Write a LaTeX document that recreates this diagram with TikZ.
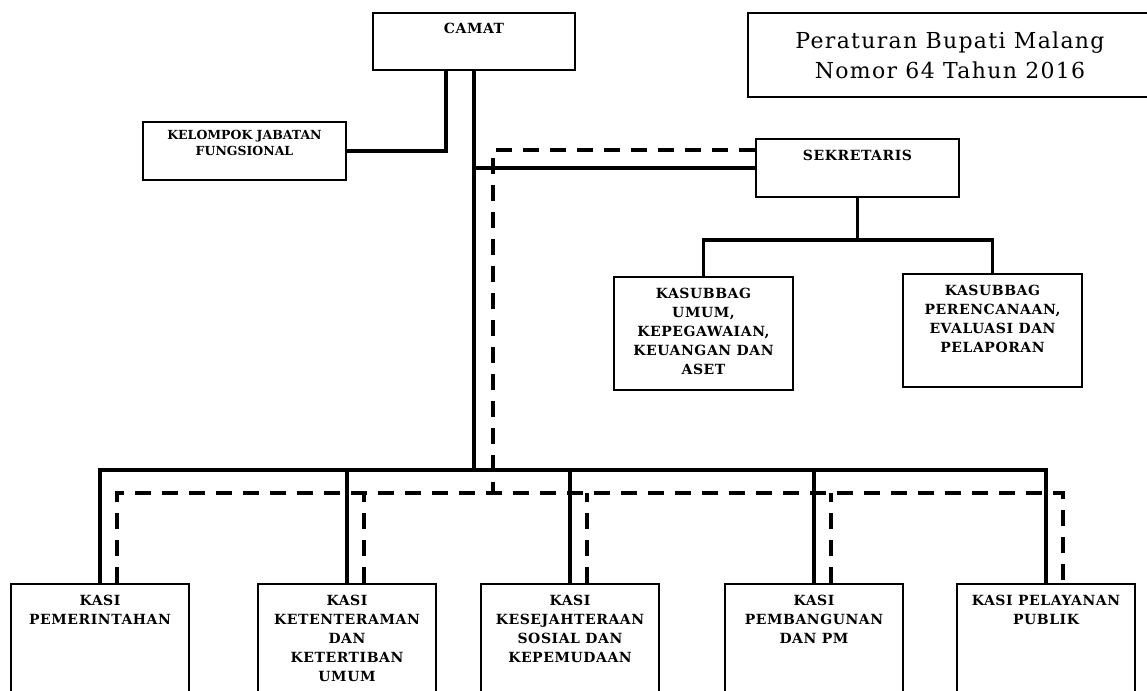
\documentclass[tikz,border=0pt]{standalone}
\usepackage{fontspec}
\setmainfont{DejaVu Serif}
\usetikzlibrary{positioning}

\tikzset{
  unitbox/.style={draw, line width=1.6pt, inner sep=0pt},
  unitlbl/.style={font=\bfseries\fontsize{14}{19}\selectfont\addfontfeatures{LetterSpace=4},
                  align=center, inner sep=1pt},
  smalllbl/.style={font=\bfseries\fontsize{12.5}{16}\selectfont, align=center, inner sep=1pt},
  solidline/.style={line width=3.5pt},
  dashline/.style={line width=3.5pt, dash pattern=on 16pt off 11pt},
}

\begin{document}
\begin{tikzpicture}[x=1pt,y=-1pt]
  \useasboundingbox (0,0) rectangle (1147,690);
  \clip (0,0) rectangle (1147,690);

  % top level
  \node[unitbox, minimum width=202, minimum height=57] (camat) at (474,41.5) {};
  \node[unitlbl, below=10pt of camat.north] (camatlbl) {CAMAT};
  \node[unitbox, minimum width=404, minimum height=84,
        font=\fontsize{22}{30}\selectfont\addfontfeatures{LetterSpace=6}, align=center] (perbup) at (950,55)
        {Peraturan Bupati Malang\\Nomor 64 Tahun 2016};
  \node[unitbox, minimum width=203, minimum height=58] (kelompok) at (244.5,151) {};
  \node[smalllbl, below=8pt of kelompok.north] (kelompoklbl) {KELOMPOK JABATAN\\FUNGSIONAL};
  \node[unitbox, minimum width=203, minimum height=58] (sekretaris) at (857.5,168) {};
  \node[unitlbl, below=11pt of sekretaris.north] (sekretarislbl) {SEKRETARIS};

  % sub bagian
  \node[unitbox, minimum width=179, minimum height=113] (sub1) at (703.5,333.5) {};
  \node[unitlbl, below=11pt of sub1.north] (sub1lbl)
        {KASUBBAG\\UMUM,\\KEPEGAWAIAN,\\KEUANGAN DAN\\ASET};
  \node[unitbox, minimum width=179, minimum height=113] (sub2) at (992.5,330.5) {};
  \node[unitlbl, below=11pt of sub2.north] (sub2lbl)
        {KASUBBAG\\PERENCANAAN,\\EVALUASI DAN\\PELAPORAN};

  % seksi
  \node[unitbox, minimum width=178, minimum height=140, anchor=north] (kasi1) at (100,583) {};
  \node[unitbox, minimum width=178, minimum height=140, anchor=north] (kasi2) at (347,583) {};
  \node[unitbox, minimum width=178, minimum height=140, anchor=north] (kasi3) at (570,583) {};
  \node[unitbox, minimum width=178, minimum height=140, anchor=north] (kasi4) at (814,583) {};
  \node[unitbox, minimum width=178, minimum height=140, anchor=north] (kasi5) at (1046,583) {};
  \node[unitlbl, below=11pt of kasi1.north] (kasi1lbl) {KASI\\PEMERINTAHAN};
  \node[unitlbl, below=11pt of kasi2.north] (kasi2lbl) {KASI\\KETENTERAMAN\\DAN\\KETERTIBAN\\UMUM};
  \node[unitlbl, below=11pt of kasi3.north] (kasi3lbl) {KASI\\KESEJAHTERAAN\\SOSIAL DAN\\KEPEMUDAAN};
  \node[unitlbl, below=11pt of kasi4.north] (kasi4lbl) {KASI\\PEMBANGUNAN\\DAN PM};
  \node[unitlbl, below=11pt of kasi5.north] (kasi5lbl) {KASI PELAYANAN\\PUBLIK};

  % command lines
  \coordinate (solidbus) at (474,470);
  \coordinate (dashbus) at (493,493);
  \coordinate (camatleg) at ([xshift=-28pt]camat.south);
  \coordinate (sekdash) at ([yshift=18pt]sekretaris.west);
  \coordinate (sekbus) at ([yshift=-42pt]sekretaris.south);
  \draw[solidline] (camatleg) |- (kelompok.east);
  \draw[solidline] (camat.south) -- (solidbus);
  \draw[solidline] (sekretaris.west) -- (sekretaris.west -| camat.south);
  \draw[solidline] (sekretaris.south) -- (sekbus);
  \draw[solidline] (sub1.north) |- (sekbus) -| (sub2.north);
  \draw[solidline] (kasi1.north) |- (solidbus) -| (kasi5.north);
  \foreach \k in {kasi2,kasi3,kasi4}
    \draw[solidline] (\k.north) -- (\k.north |- solidbus);

  % coordination lines
  \foreach \k in {kasi1,kasi2,kasi3,kasi4,kasi5}
    \coordinate (\k-d) at ([xshift=17pt]\k.north);
  \draw[dashline] (sekdash) -| (dashbus);
  \draw[dashline] (kasi1-d) |- (dashbus) -| (kasi5-d);
  \foreach \k in {kasi2,kasi3,kasi4}
    \draw[dashline] (\k-d) -- (\k-d |- dashbus);
\end{tikzpicture}
\end{document}
